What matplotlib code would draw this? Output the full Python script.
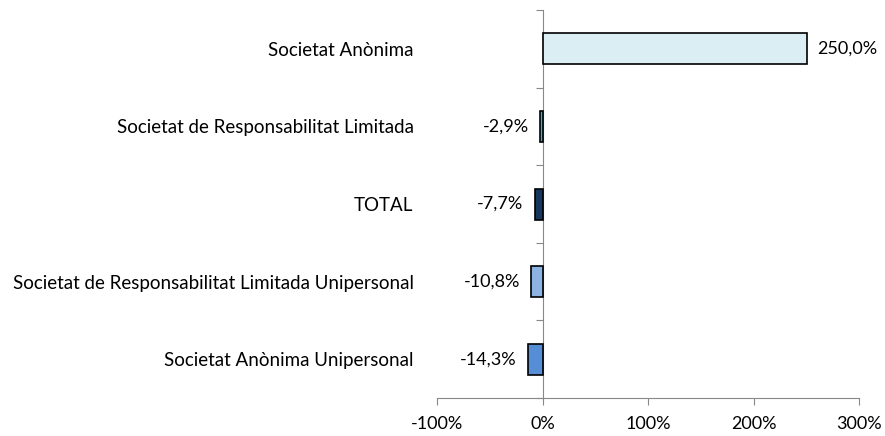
import matplotlib.pyplot as plt
import numpy as np

categories = ["Societat Anònima",
              "Societat de Responsabilitat Limitada",
              "TOTAL",
              "Societat de Responsabilitat Limitada Unipersonal",
              "Societat Anònima Unipersonal"]
values = [250.0, -2.9, -7.7, -10.8, -14.3]
colors = ["#DBEEF4", "#31B5D6", "#17375E", "#8DB3E2", "#558ED5"]
xticks = [-100, 0, 100, 200, 300]

plt.rcParams['font.family'] = ['Lato', 'DejaVu Sans']
fs = 13.5
fig = plt.figure(figsize=(8.85, 4.36), dpi=100)
ax = fig.add_axes([0.494, 0.087, 0.477, 0.890])

y = np.arange(len(categories))
bars = ax.barh(y, values, height=0.4, color=colors, edgecolor="black", linewidth=1.2)
ax.set_ylim(len(categories) - 0.5, -0.5)
ax.set_xlim(-100, 300)

labels = [f"{v:.1f}%".replace(".", ",") for v in values]
ax.bar_label(bars, labels=labels, padding=8, fontsize=13)

ax.set_yticks(y)
ax.set_yticklabels(categories, fontsize=fs)
ax.tick_params(axis='y', length=0, pad=17)
ax.set_xticks(xticks)
ax.set_xticklabels([f"{t}%" for t in xticks], fontsize=13)
ax.tick_params(axis='x', direction='out', length=5, color='#888888', pad=8)

for s in ['top', 'right', 'left']:
    ax.spines[s].set_visible(False)
ax.spines['bottom'].set_color('#888888')

sec = ax.secondary_yaxis(0.25)
sec.set_yticks(np.arange(-0.5, len(categories), 1.0))
sec.set_yticklabels([])
sec.tick_params(axis='y', direction='out', length=5, color='#888888')
sec.spines['left'].set_color('#888888')

fig.savefig("out.png", dpi=100)
